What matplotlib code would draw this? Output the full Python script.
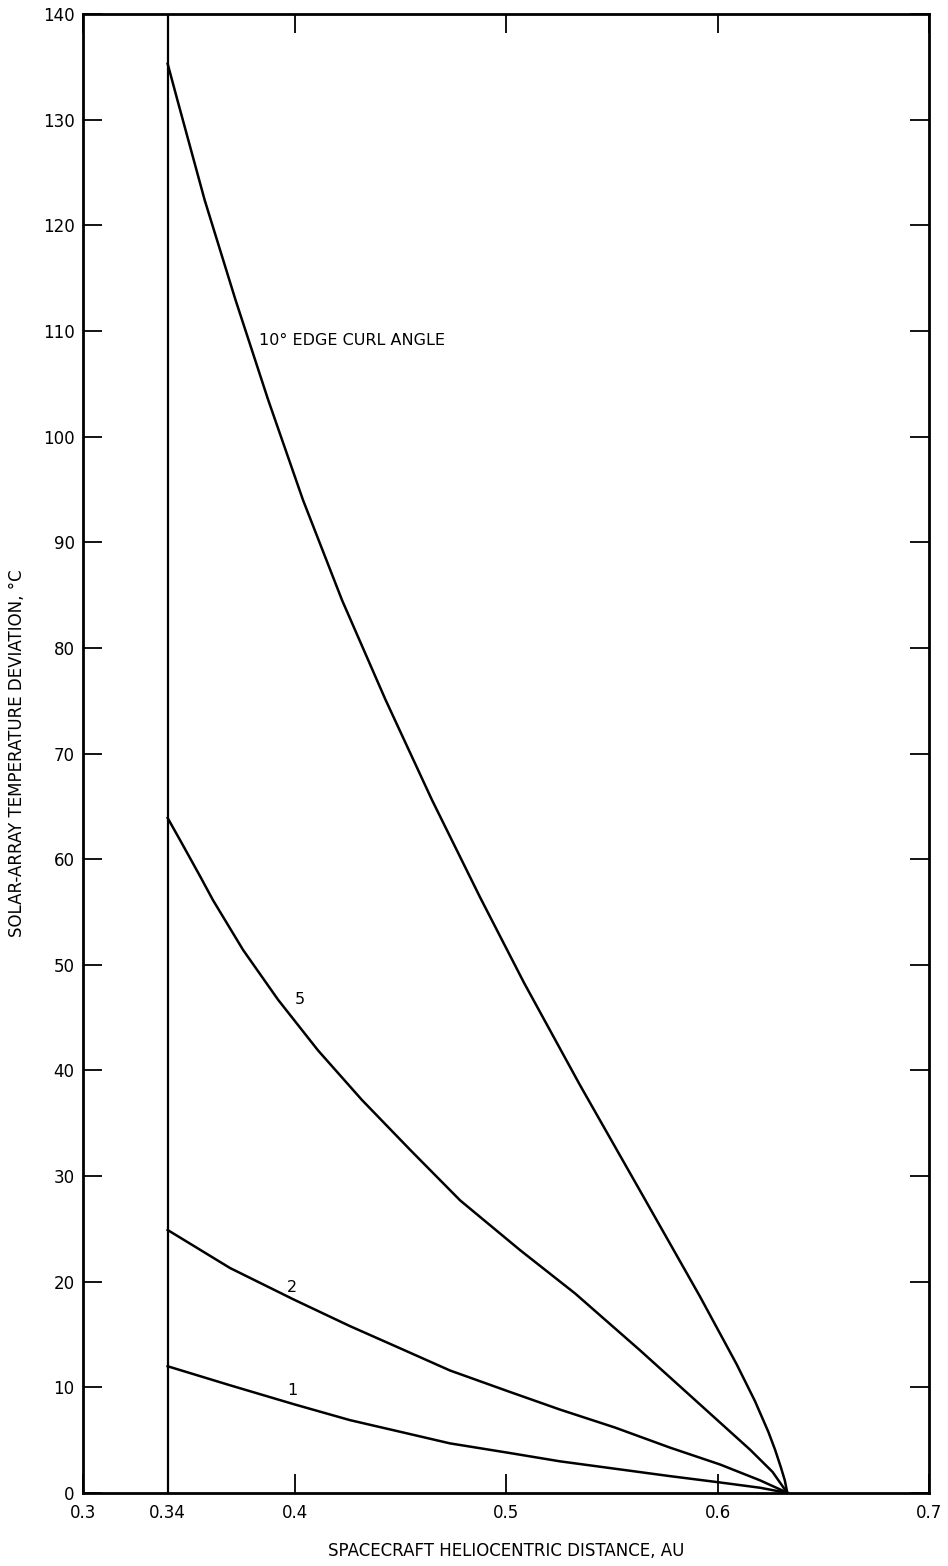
import matplotlib
matplotlib.use("Agg")
import matplotlib.pyplot as plt

# curl angle 10 deg
x10 = [0.340, 0.3447, 0.3575, 0.372, 0.3875, 0.404, 0.4225, 0.443, 0.465, 0.4877,
       0.5085, 0.5350, 0.5634, 0.5917, 0.6090, 0.6177, 0.6240, 0.6272, 0.6300,
       0.6318, 0.6330]
y10 = [135.3, 131.8, 122.4, 113.0, 103.5, 94.0, 84.5, 75.1, 65.6, 56.4,
       48.3, 38.6, 28.6, 18.6, 12.2, 8.7, 5.8, 4.1, 2.4, 1.2, 0.0]

# curl angle 5 deg
x5 = [0.340, 0.3459, 0.3553, 0.3615, 0.3757, 0.3922, 0.4111, 0.4319, 0.4546, 0.4783,
      0.5066, 0.5326, 0.5634, 0.5894, 0.6154, 0.6260, 0.6330]
y5 = [63.9, 61.8, 58.4, 56.1, 51.4, 46.7, 41.9, 37.2, 32.5, 27.7,
      23.0, 18.9, 13.5, 8.8, 4.1, 2.0, 0.0]

# curl angle 2 deg
x2 = [0.340, 0.3695, 0.3998, 0.4262, 0.4499, 0.4735, 0.5014, 0.5255, 0.5515,
      0.5775, 0.6012, 0.6201, 0.6333]
y2 = [24.9, 21.3, 18.3, 15.8, 13.7, 11.6, 9.6, 7.9, 6.2,
      4.3, 2.7, 1.2, 0.0]

# curl angle 1 deg
x1 = [0.340, 0.3695, 0.3998, 0.4262, 0.4499, 0.4735, 0.5014, 0.5255, 0.5515,
      0.5775, 0.6012, 0.6201, 0.6333]
y1 = [12.0, 10.2, 8.4, 6.9, 5.8, 4.7, 3.8, 3.0, 2.3,
      1.6, 1.0, 0.5, 0.0]

xticks = [0.3, 0.34, 0.4, 0.5, 0.6, 0.7]
xtick_labels = ["0.3", "0.34", "0.4", "0.5", "0.6", "0.7"]
yticks = list(range(0, 141, 10))

plt.rcParams["font.family"] = ["DejaVu Sans"]

fig = plt.figure(figsize=(9.48, 15.66), dpi=100)
ax = fig.add_axes([0.0876, 0.0466, 0.8924, 0.9444])

ax.set_xlim(0.3, 0.7)
ax.set_ylim(0, 140)

for xs, ys in [(x10, y10), (x5, y5), (x2, y2), (x1, y1)]:
    ax.plot(xs, ys, color="black", lw=1.8, solid_joinstyle="round")

# lower distance limit
ax.plot([0.34, 0.34], [0, 140], color="black", lw=1.6)

ax.text(0.383, 109.1, "10° EDGE CURL ANGLE", fontsize=11.5, ha="left", va="center")
ax.text(0.4026, 46.7, "5", fontsize=11.5, ha="center", va="center")
ax.text(0.3988, 19.5, "2", fontsize=11.5, ha="center", va="center")
ax.text(0.3988, 9.75, "1", fontsize=11.5, ha="center", va="center")

ax.set_xticks(xticks)
ax.set_xticklabels(xtick_labels)
ax.set_yticks(yticks)
ax.tick_params(axis="both", direction="in", length=14, width=1.3, labelsize=12,
               top=True, right=True, colors="black")
ax.tick_params(axis="x", pad=8)
ax.tick_params(axis="y", pad=6)

for s in ax.spines.values():
    s.set_linewidth(2.0)

ax.set_xlabel("SPACECRAFT HELIOCENTRIC DISTANCE, AU", fontsize=12, labelpad=14)
ax.set_ylabel("SOLAR-ARRAY TEMPERATURE DEVIATION, °C", fontsize=12, labelpad=12)

fig.savefig("out.png", dpi=100, facecolor="white")
